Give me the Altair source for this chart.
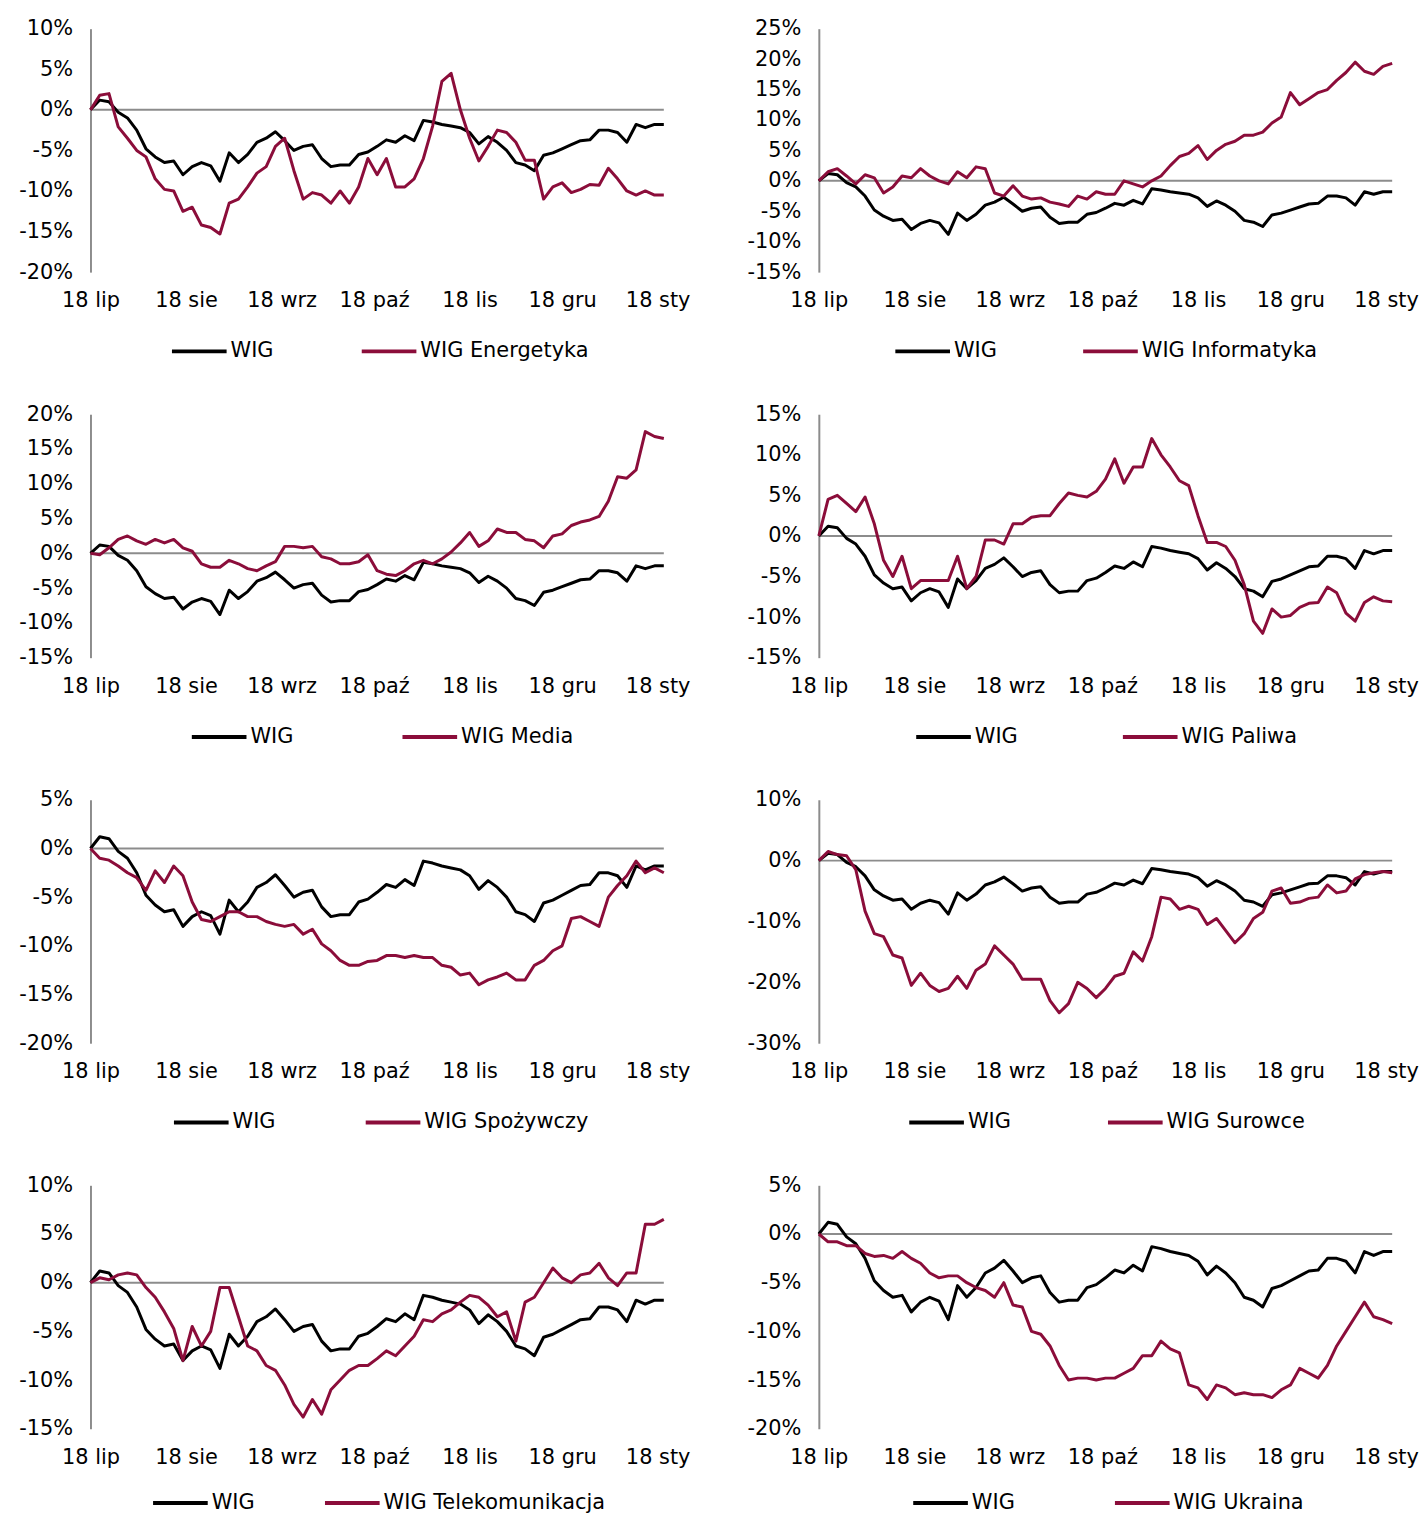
import altair as alt
import pandas as pd

# Days since 18 July 2018, sampled every 3 days
DAYS = list(range(0, 187, 3))
TICK_DAYS = [0, 31, 62, 92, 123, 153, 184]
TICK_LABELS = ["18 lip", "18 sie", "18 wrz", "18 paź", "18 lis", "18 gru", "18 sty"]

WIG = [
    0, 1.2, 1.0, -0.3, -1.0, -2.5, -4.8, -5.8, -6.5,
    -6.3, -8.0, -7.0, -6.5, -6.9, -8.8, -5.3, -6.5, -5.5,
    -4.0, -3.5, -2.7, -3.8, -5.0, -4.5, -4.3, -6.0, -7.0,
    -6.8, -6.8, -5.5, -5.2, -4.5, -3.7, -4.0, -3.2, -3.8,
    -1.3, -1.5, -1.8, -2.0, -2.2, -2.8, -4.2, -3.3, -4.0,
    -5.0, -6.5, -6.8, -7.5, -5.6, -5.3, -4.8, -4.3, -3.8,
    -3.7, -2.5, -2.5, -2.8, -4.0, -1.8, -2.2, -1.8, -1.8,
]
ENERGETYKA = [
    0, 1.8, 2.0, -2.1, -3.5, -5.0, -5.8, -8.5, -9.8,
    -10.0, -12.5, -12.0, -14.2, -14.5, -15.3, -11.5, -11.0, -9.5,
    -7.8, -7.0, -4.5, -3.5, -7.5, -11.0, -10.2, -10.5, -11.5,
    -10.0, -11.5, -9.5, -6.0, -8.0, -6.0, -9.5, -9.5, -8.5,
    -6.0, -2.0, 3.5, 4.5, 0.0, -3.5, -6.3, -4.5, -2.5,
    -2.8, -4.0, -6.2, -6.2, -11.0, -9.5, -9.0, -10.2, -9.8,
    -9.2, -9.3, -7.2, -8.5, -10.0, -10.5, -10.0, -10.5, -10.5,
]
INFORMATYKA = [
    0, 1.5, 2.0, 0.8, -0.5, 1.0, 0.5, -2.0, -1.0,
    0.8, 0.5, 2.0, 0.8, 0.0, -0.5, 1.5, 0.5, 2.3,
    2.0, -2.0, -2.5, -0.8, -2.5, -3.0, -2.8, -3.5, -3.8,
    -4.2, -2.5, -3.0, -1.8, -2.2, -2.2, 0.0, -0.5, -1.0,
    0.0, 0.8, 2.5, 4.0, 4.5, 5.8, 3.5, 5.0, 6.0,
    6.5, 7.5, 7.5, 8.0, 9.5, 10.5, 14.5, 12.5, 13.5,
    14.5, 15.0, 16.5, 17.8, 19.5, 18.0, 17.5, 18.8, 19.3,
]
MEDIA = [
    0, -0.2, 0.8, 2.0, 2.5, 1.8, 1.3, 2.0, 1.5,
    2.0, 0.8, 0.3, -1.5, -2.0, -2.0, -1.0, -1.5, -2.2,
    -2.5, -1.8, -1.2, 1.0, 1.0, 0.8, 1.0, -0.5, -0.8,
    -1.5, -1.5, -1.2, -0.2, -2.5, -3.0, -3.2, -2.5, -1.5,
    -1.0, -1.5, -0.8, 0.2, 1.5, 3.0, 1.0, 1.8, 3.5,
    3.0, 3.0, 2.0, 1.8, 0.8, 2.5, 2.8, 4.0, 4.5,
    4.8, 5.3, 7.5, 11.0, 10.8, 12.0, 17.5, 16.8, 16.5,
]
PALIWA = [
    0, 4.5, 5.0, 4.0, 3.0, 4.8, 1.5, -3.0, -5.0,
    -2.5, -6.5, -5.5, -5.5, -5.5, -5.5, -2.5, -6.5, -5.0,
    -0.5, -0.5, -1.0, 1.5, 1.5, 2.3, 2.5, 2.5, 4.0,
    5.3, 5.0, 4.8, 5.5, 7.0, 9.5, 6.5, 8.5, 8.5,
    12.0, 10.0, 8.5, 6.8, 6.2, 2.5, -0.8, -0.8, -1.3,
    -3.0, -6.0, -10.5, -12.0, -9.0, -10.0, -9.8, -8.8, -8.3,
    -8.2, -6.3, -7.0, -9.5, -10.5, -8.2, -7.5, -8.0, -8.1,
]
SPOZYWCZY = [
    0, -1.0, -1.2, -1.8, -2.5, -3.0, -4.3, -2.3, -3.5,
    -1.8, -2.8, -5.5, -7.3, -7.5, -7.0, -6.5, -6.5, -7.0,
    -7.0, -7.5, -7.8, -8.0, -7.8, -8.8, -8.3, -9.8, -10.5,
    -11.5, -12.0, -12.0, -11.6, -11.5, -11.0, -11.0, -11.2, -11.0,
    -11.2, -11.2, -12.0, -12.2, -13.0, -12.8, -14.0, -13.5, -13.2,
    -12.8, -13.5, -13.5, -12.0, -11.5, -10.5, -10.0, -7.2, -7.0,
    -7.5, -8.0, -5.0, -3.8, -2.8, -1.3, -2.5, -2.0, -2.5,
]
SUROWCE = [
    0, 1.5, 1.0, 0.8, -1.5, -8.3, -12.0, -12.5, -15.5,
    -16.0, -20.5, -18.5, -20.5, -21.5, -21.0, -19.0, -21.0, -18.0,
    -17.0, -14.0, -15.5, -17.0, -19.5, -19.5, -19.5, -23.0, -25.0,
    -23.5, -20.0, -21.0, -22.5, -21.0, -19.0, -18.5, -15.0, -16.5,
    -12.5, -6.0, -6.3, -8.0, -7.5, -8.0, -10.5, -9.5, -11.5,
    -13.5, -12.0, -9.5, -8.5, -5.0, -4.5, -7.0, -6.8, -6.2,
    -6.0, -4.0, -5.3, -5.0, -3.0, -2.3, -2.0, -1.8, -2.0,
]
TELEKOMUNIKACJA = [
    0, 0.5, 0.3, 0.8, 1.0, 0.8, -0.5, -1.5, -3.0,
    -4.7, -8.0, -4.5, -6.5, -5.0, -0.5, -0.5, -3.5, -6.5,
    -7.0, -8.5, -9.0, -10.5, -12.5, -13.8, -12.0, -13.5, -11.0,
    -10.0, -9.0, -8.5, -8.5, -7.8, -7.0, -7.5, -6.5, -5.5,
    -3.8, -4.0, -3.2, -2.8, -2.0, -1.3, -1.5, -2.3, -3.5,
    -3.0, -6.0, -2.0, -1.5, 0.0, 1.5, 0.5, 0.0, 0.8,
    1.0, 2.0, 0.5, -0.3, 1.0, 1.0, 6.0, 6.0, 6.5,
]
UKRAINA = [
    0, -0.8, -0.8, -1.2, -1.2, -2.0, -2.3, -2.2, -2.5,
    -1.8, -2.5, -3.0, -4.0, -4.5, -4.3, -4.3, -5.0, -5.5,
    -5.8, -6.5, -5.0, -7.3, -7.5, -10.0, -10.3, -11.5, -13.5,
    -15.0, -14.8, -14.8, -15.0, -14.8, -14.8, -14.3, -13.8, -12.5,
    -12.5, -11.0, -11.8, -12.2, -15.5, -15.8, -17.0, -15.5, -15.8,
    -16.5, -16.3, -16.5, -16.5, -16.8, -16.0, -15.5, -13.8, -14.3,
    -14.8, -13.5, -11.5, -10.0, -8.5, -7.0, -8.5, -8.8, -9.2,
]

# name, values, y min, y max, y step
PANELS = [
    ("WIG Energetyka", ENERGETYKA, -20, 10, 5),
    ("WIG Informatyka", INFORMATYKA, -15, 25, 5),
    ("WIG Media", MEDIA, -15, 20, 5),
    ("WIG Paliwa", PALIWA, -15, 15, 5),
    ("WIG Spożywczy", SPOZYWCZY, -20, 5, 5),
    ("WIG Surowce", SUROWCE, -30, 10, 10),
    ("WIG Telekomunikacja", TELEKOMUNIKACJA, -15, 10, 5),
    ("WIG Ukraina", UKRAINA, -20, 5, 5),
]
# legend left offset, gap between entries, vertical offset (style)
LEGEND_POS = [(80, 80, 295), (75, 78, 295), (100, 101, 295), (96, 97, 295),
              (82, 82, 295), (89, 89, 295), (61, 62, 290), (93, 92, 290)]

BLACK = "#000000"
RED = "#8B0D3A"
GRAY = "#8C8C8C"
FONT = "DejaVu Sans"
FS = 21
W, H = 577, 245

XLABEL_EXPR = "[" + ",".join("'%s'" % t for t in TICK_LABELS) + "][indexof([" + \
    ",".join(str(d) for d in TICK_DAYS) + "], datum.value)]"


def panel(name, series, lo, hi, step, lx, gap, ly):
    n = len(DAYS)
    df = pd.DataFrame({
        "day": DAYS + DAYS,
        "value": WIG + series,
        "series": ["WIG"] * n + [name] * n,
    })
    y_scale = alt.Scale(domain=[lo, hi], nice=False, zero=False)
    y_axis = alt.Axis(values=list(range(lo, hi + 1, step)),
                      labelExpr="datum.value + '%'", grid=False, ticks=False,
                      domainColor=GRAY, domainWidth=2, labelPadding=18, title=None)
    lines = alt.Chart(df).mark_line(strokeWidth=3, strokeJoin="round").encode(
        x=alt.X("day:Q",
                scale=alt.Scale(domain=[0, 186], nice=False, zero=False),
                axis=alt.Axis(values=TICK_DAYS, labelExpr=XLABEL_EXPR, grid=False,
                              domain=False, ticks=False, labelPadding=18, title=None,
                              labelFlush=False)),
        y=alt.Y("value:Q", scale=y_scale, axis=y_axis),
        color=alt.Color("series:N",
                        scale=alt.Scale(domain=["WIG", name], range=[BLACK, RED]),
                        legend=alt.Legend(title=None, orient="none", legendX=lx,
                                          legendY=ly, direction="horizontal",
                                          symbolType="stroke", symbolSize=3025,
                                          symbolStrokeWidth=4, columnPadding=gap,
                                          labelOffset=2, labelFontSize=FS,
                                          labelLimit=600,
                                          labelFont=FONT, labelColor="#000000")),
    )
    zero = alt.Chart(pd.DataFrame({"value": [0]})).mark_rule(
        color=GRAY, strokeWidth=2).encode(y=alt.Y("value:Q", scale=y_scale, axis=y_axis))
    return alt.layer(zero, lines).properties(width=W, height=H)


charts = [panel(name, vals, lo, hi, st, *LEGEND_POS[i])
          for i, (name, vals, lo, hi, st) in enumerate(PANELS)]

chart = alt.concat(*charts, columns=2, spacing=alt.RowColnumber(row=143, column=156),
                   bounds="flush")
chart = chart.resolve_scale(color="independent", x="independent", y="independent")
chart = chart.resolve_legend(color="independent")
chart = chart.properties(padding={"left": 10, "top": 5, "right": 0, "bottom": 0},
                         background="white")
chart = chart.configure_view(stroke=None).configure_axis(
    labelFont=FONT, labelFontSize=FS, labelColor="#000000"
)

chart.save("out.html", embed_options={"renderer": "svg", "actions": False})
